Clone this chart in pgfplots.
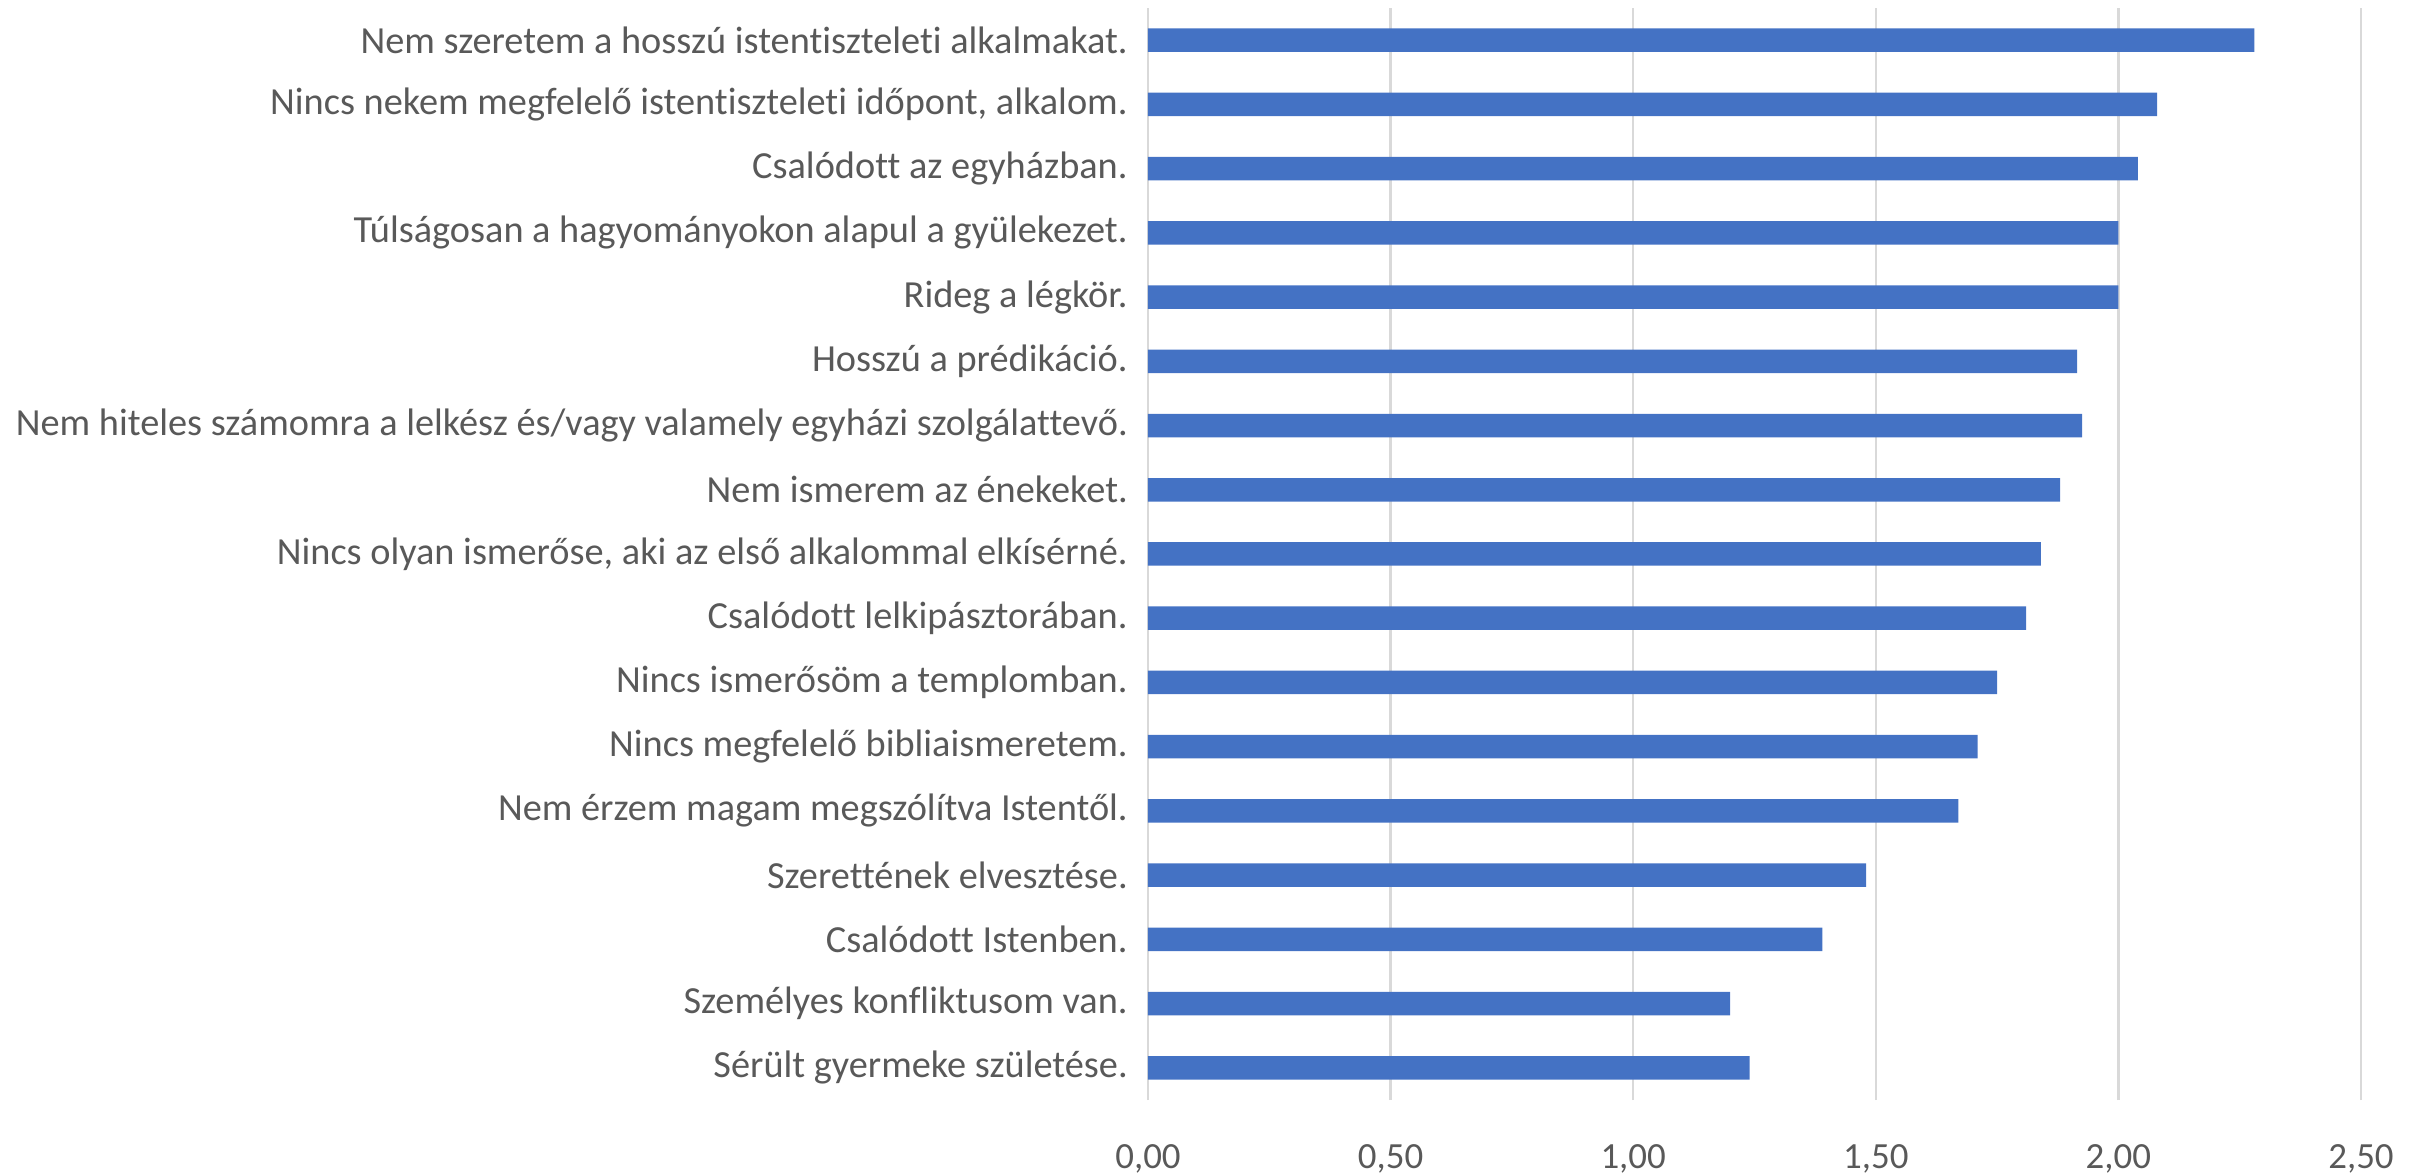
\documentclass[border=0pt]{standalone}
\usepackage{fontspec}
\setmainfont{Carlito}[RawFeature={-liga;-clig;-calt;-dlig}]
\usepackage{pgfplots}
\pgfplotsset{compat=1.18}
\definecolor{barblue}{HTML}{4472C4}
\definecolor{txtgray}{HTML}{595959}
\definecolor{gridgray}{HTML}{D9D9D9}

\begin{document}
\begin{tikzpicture}
\path[use as bounding box] (-11.48cm,-0.75cm) rectangle (12.75cm,11.00cm);
\begin{axis}[
  at={(0,0)}, anchor=south west,
  scale only axis, width=12.13cm, height=10.92cm,
  xbar, bar width=0.235cm,
  xmin=0, xmax=2.5, ymin=-0.5, ymax=16.5,
  xtick={0,0.5,1,1.5,2,2.5},
  ytick={0,...,16},
  yticklabels={
    Sérült gyermeke születése.,
    Személyes konfliktusom van.,
    Csalódott Istenben.,
    Szerettének elvesztése.,
    Nem érzem magam megszólítva Istentől.,
    Nincs megfelelő bibliaismeretem.,
    Nincs ismerősöm a templomban.,
    Csalódott lelkipásztorában.,
    {Nincs olyan ismerőse, aki az első alkalommal elkísérné.},
    Nem ismerem az énekeket.,
    Nem hiteles számomra a lelkész és/vagy valamely egyházi szolgálattevő.,
    Hosszú a prédikáció.,
    Rideg a légkör.,
    Túlságosan a hagyományokon alapul a gyülekezet.,
    Csalódott az egyházban.,
    {Nincs nekem megfelelő istentiszteleti időpont, alkalom.},
    Nem szeretem a hosszú istentiszteleti alkalmakat.},
  axis line style={draw=none},
  major tick length=0pt,
  xmajorgrids, grid style={gridgray, line width=0.7pt},
  tick label style={font=\fontsize{10.5}{12}\selectfont, text=txtgray},
  yticklabel style={font=\fontsize{10.9}{12}\selectfont, xshift=-0.08cm},
  xticklabel style={yshift=-0.32cm},
  /pgf/number format/assume math mode=true,
  xticklabel={\pgfmathprintnumber[fixed, fixed zerofill, precision=2, use comma]{\tick}},
]
\addplot[draw=none, fill=barblue] coordinates {
  (1.24,0) (1.20,1) (1.39,2) (1.48,3) (1.67,4) (1.71,5) (1.75,6)
  (1.81,7) (1.84,8) (1.88,9) (1.925,10) (1.915,11) (2.00,12)
  (2.00,13) (2.04,14) (2.08,15) (2.28,16)};
\end{axis}
\end{tikzpicture}
\end{document}
